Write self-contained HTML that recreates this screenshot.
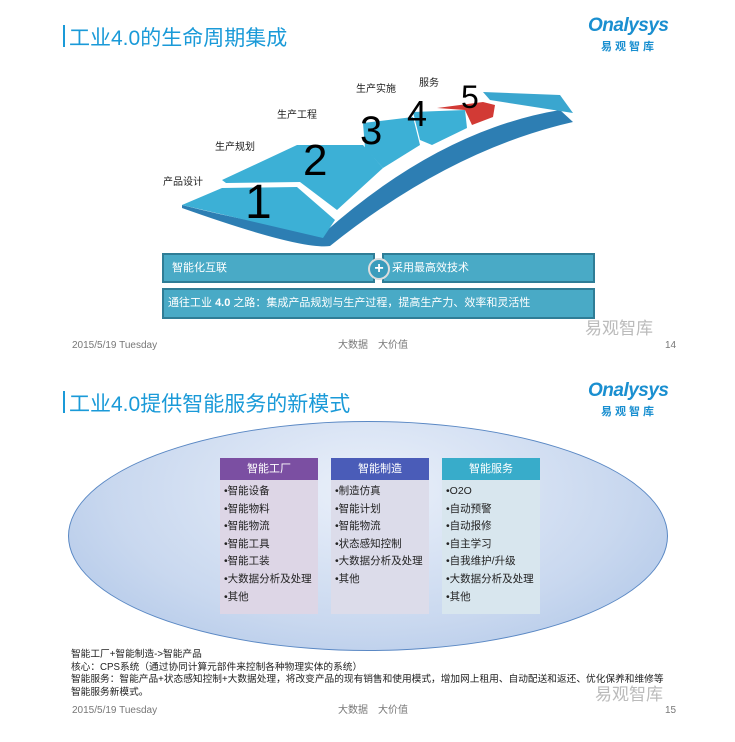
<!DOCTYPE html>
<html><head><meta charset="utf-8"><style>
body{margin:0;width:735px;height:742px;background:#fff;position:relative;overflow:hidden;font-family:"Liberation Sans","Noto Sans CJK SC",sans-serif}
.a{position:absolute;white-space:nowrap}
.t{font-size:21px;color:#1a9ad8;}
.bar{position:absolute;width:2px;height:22px;background:#1a9ad8}
.foot{font-size:10px;color:#777;line-height:12px}
.lg{color:#1a8fd0;font-style:italic;font-size:19px;font-weight:bold;letter-spacing:-0.5px}
.lg2{color:#1a8fd0;font-size:11px;font-weight:bold;letter-spacing:3px}
.box{position:absolute;background:#49aac6;border:2px solid #2f7d96;color:#fff;font-size:11px;box-sizing:border-box;padding-left:8px}
.col{position:absolute;width:98px;top:458px;height:156px}
.hd{height:22px;color:#fff;font-size:11px;text-align:center;line-height:22px}
.it{font-size:10.5px;color:#222;padding-left:4px;line-height:17.6px;margin-top:3px}
.bt{font-size:9.7px;color:#222;left:71px}
</style></head><body>
<div class="bar" style="left:63px;top:25px"></div>
<div class="a t" style="left:69px;top:22px">工业4.0的生命周期集成</div>
<div class="a lg" style="left:588px;top:15px">Onalysys</div>
<div class="a lg2" style="left:601px;top:38px">易观智库</div>

<svg class="a" style="left:0;top:0" width="735" height="330">
<path d="M182,208 Q300,250 330,246 Q450,150 573,122 L560,110 Q440,130 325,232 Q260,225 182,205Z" fill="#2d7eb3"/>
<polygon points="483,92 560,95 573,113 490,100" fill="#3aa6cf"/>
<polygon points="182,205 222,188 297,187 335,220 323,238" fill="#3cb0d6"/>
<polygon points="222,180 297,145 363,145 383,168 337,210 300,182 226,183" fill="#3cb0d6"/>
<polygon points="363,123 413,117 420,145 383,168 365,148" fill="#3cb0d6"/>
<polygon points="413,112 465,110 467,128 432,145 420,140" fill="#3cb0d6"/>
<polygon points="437,108 483,102 495,105 493,117 472,125 465,110" fill="#d23a35"/>
<text x="245" y="218" font-size="48" font-family="Liberation Sans">1</text>
<text x="303" y="175" font-size="44" font-family="Liberation Sans">2</text>
<text x="360" y="144" font-size="40" font-family="Liberation Sans">3</text>
<text x="407" y="126" font-size="36" font-family="Liberation Sans">4</text>
<text x="461" y="108" font-size="32" font-family="Liberation Sans">5</text>
<g font-size="10" fill="#222" font-family="Liberation Sans,Noto Sans CJK SC">
<text x="163" y="185">产品设计</text><text x="215" y="150">生产规划</text>
<text x="277" y="118">生产工程</text><text x="356" y="92">生产实施</text><text x="419" y="86">服务</text></g>
</svg>
<div class="box" style="left:162px;top:253px;width:213px;height:30px;line-height:26px">智能化互联</div>
<div class="box" style="left:382px;top:253px;width:213px;height:30px;line-height:26px">采用最高效技术</div>
<div class="a" style="left:368px;top:258px;width:18px;height:18px;border-radius:50%;background:#3a9cbc;border:2px solid #ddd;color:#fff;text-align:center;line-height:18px;font-size:16px;font-weight:bold">+</div>
<div class="box" style="left:162px;top:288px;width:433px;height:31px;line-height:27px;padding-left:4px">通往工业 <b>4.0</b> 之路：集成产品规划与生产过程，提高生产力、效率和灵活性</div>
<div class="a" style="left:585px;top:314px;font-size:17px;color:#bbb">易观智库</div>
<div class="a foot" style="left:72px;top:340px">2015/5/19 Tuesday</div>
<div class="a foot" style="left:338px;top:340px">大数据　大价值</div>
<div class="a foot" style="left:665px;top:340px">14</div>

<div class="bar" style="left:63px;top:391px"></div>
<div class="a t" style="left:69px;top:388px">工业4.0提供智能服务的新模式</div>
<div class="a lg" style="left:588px;top:380px">Onalysys</div>
<div class="a lg2" style="left:601px;top:403px">易观智库</div>
<div class="a" style="left:68px;top:421px;width:598px;height:228px;border-radius:50%;border:1.5px solid #5a88c4;background:radial-gradient(ellipse at 50% 30%,#eaf0fa,#c9d8ef 60%,#a9c2e6)"></div>
<div class="col" style="left:220px;background:#ddd6e6"><div class="hd" style="background:#7b4fa2">智能工厂</div><div class="it">•智能设备<br>•智能物料<br>•智能物流<br>•智能工具<br>•智能工装<br>•大数据分析及处理<br>•其他</div></div>
<div class="col" style="left:331px;background:#dcdcea"><div class="hd" style="background:#4a5cb8">智能制造</div><div class="it">•制造仿真<br>•智能计划<br>•智能物流<br>•状态感知控制<br>•大数据分析及处理<br>•其他</div></div>
<div class="col" style="left:442px;background:#d8e6ee"><div class="hd" style="background:#38acca">智能服务</div><div class="it">•O2O<br>•自动预警<br>•自动报修<br>•自主学习<br>•自我维护/升级<br>•大数据分析及处理<br>•其他</div></div>
<div class="a bt" style="top:649px;line-height:12.5px">智能工厂+智能制造->智能产品<br>核心：CPS系统（通过协同计算元部件来控制各种物理实体的系统）<br>智能服务：智能产品+状态感知控制+大数据处理，将改变产品的现有销售和使用模式，增加网上租用、自动配送和返还、优化保养和维修等<br>智能服务新模式。</div>
<div class="a" style="left:595px;top:680px;font-size:17px;color:#bbb">易观智库</div>
<div class="a foot" style="left:72px;top:705px">2015/5/19 Tuesday</div>
<div class="a foot" style="left:338px;top:705px">大数据　大价值</div>
<div class="a foot" style="left:665px;top:705px">15</div>
</body></html>
